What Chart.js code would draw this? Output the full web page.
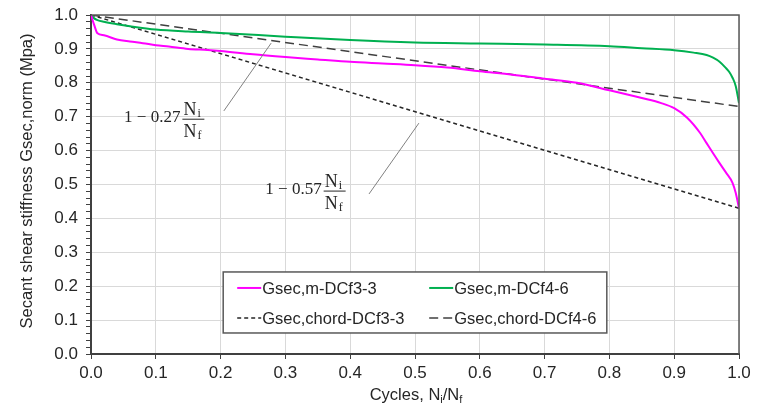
<!DOCTYPE html>
<html>
<head>
<meta charset="utf-8">
<script src="https://cdn.jsdelivr.net/npm/chart.js@4.4.1/dist/chart.umd.min.js"></script>
<style>
    html, body { margin: 0; padding: 0; background: #ffffff; }
</style>
</head>
<body>
<canvas id="grafico" width="758" height="404"></canvas>
<script>
// dados
const ciclosDCf33 = [0, 0.005, 0.01, 0.02, 0.04, 0.06, 0.08, 0.1, 0.12, 0.15, 0.18, 0.2, 0.25, 0.3, 0.35, 0.4, 0.45, 0.5, 0.55, 0.6, 0.65, 0.7, 0.75, 0.8, 0.85, 0.88, 0.9, 0.92, 0.94, 0.95, 0.96, 0.97, 0.98, 0.99, 0.995, 1.0];
const gsecDCf33 = [1.0, 0.97, 0.946, 0.94, 0.928, 0.922, 0.917, 0.911, 0.907, 0.9, 0.897, 0.894, 0.884, 0.876, 0.869, 0.862, 0.857, 0.852, 0.845, 0.834, 0.824, 0.812, 0.8, 0.778, 0.755, 0.74, 0.725, 0.697, 0.652, 0.622, 0.592, 0.563, 0.535, 0.505, 0.475, 0.43];

const ciclosDCf46 = [0, 0.005, 0.01, 0.02, 0.04, 0.06, 0.1, 0.15, 0.2, 0.3, 0.4, 0.5, 0.6, 0.7, 0.8, 0.85, 0.9, 0.93, 0.95, 0.96, 0.97, 0.98, 0.985, 0.99, 0.995, 1.0];
const gsecDCf46 = [1.0, 0.99, 0.985, 0.98, 0.973, 0.967, 0.957, 0.951, 0.947, 0.936, 0.926, 0.919, 0.916, 0.913, 0.908, 0.902, 0.896, 0.889, 0.882, 0.874, 0.862, 0.843, 0.832, 0.815, 0.79, 0.74];

const ciclosChord = [0, 1];
const chordDCf33 = [1.0, 0.43];
const chordDCf46 = [1.0, 0.73];

const rotulos = ['Gsec,m-DCf3-3', 'Gsec,m-DCf4-6', 'Gsec,chord-DCf3-3', 'Gsec,chord-DCf4-6'];
const coeficientes = ['0.27', '0.57'];

const pontos = (xs, ys) => xs.map((x, i) => ({ x: x, y: ys[i] }));

const corTexto = '#262626';
const fonte = "'Liberation Sans', Arial, sans-serif";
const fonteMat = "'Liberation Serif', 'DejaVu Serif', serif";

Chart.defaults.font.family = fonte;
Chart.defaults.font.size = 17;
Chart.defaults.color = corTexto;

function desenharFormula(ctx, xa, ya, coef) {
    ctx.save();
    ctx.fillStyle = corTexto;
    ctx.font = '17px ' + fonteMat;
    ctx.textBaseline = 'middle';
    ctx.textAlign = 'left';
    const txt = '1 \u2212 ' + coef;
    ctx.fillText(txt, xa, ya);
    const w = ctx.measureText(txt).width;
    const fx = xa + w + 2;
    const fw = 22;
    ctx.strokeStyle = corTexto;
    ctx.lineWidth = 1;
    ctx.beginPath();
    ctx.moveTo(fx, ya + 1.5);
    ctx.lineTo(fx + fw, ya + 1.5);
    ctx.stroke();
    ctx.textBaseline = 'alphabetic';
    ctx.font = '18px ' + fonteMat;
    ctx.fillText('N', fx + 1, ya - 3);
    ctx.fillText('N', fx + 1, ya + 19);
    ctx.font = '12px ' + fonteMat;
    ctx.fillText('i', fx + 15, ya - 1);
    ctx.fillText('f', fx + 15, ya + 21);
    ctx.restore();
}

const extras = {
    id: 'extras',
    afterDraw(chart) {
        const ctx = chart.ctx;
        const a = chart.chartArea;
        const sx = chart.scales.x;
        const sy = chart.scales.y;
        const px = v => sx.getPixelForValue(v);
        const py = v => sy.getPixelForValue(v);

        // moldura superior e direita
        ctx.save();
        ctx.strokeStyle = '#595959';
        ctx.lineWidth = 1.5;
        ctx.beginPath();
        ctx.moveTo(a.left, a.top);
        ctx.lineTo(a.right, a.top);
        ctx.lineTo(a.right, a.bottom);
        ctx.stroke();

        // linhas de chamada
        ctx.strokeStyle = '#808080';
        ctx.lineWidth = 1;
        ctx.beginPath();
        ctx.moveTo(px(0.205), py(0.717));
        ctx.lineTo(px(0.278), py(0.917));
        ctx.moveTo(px(0.429), py(0.472));
        ctx.lineTo(px(0.506), py(0.681));
        ctx.stroke();
        ctx.restore();

        desenharFormula(ctx, px(0.051), py(0.697), coeficientes[0]);
        desenharFormula(ctx, px(0.269), py(0.485), coeficientes[1]);

        // legenda
        const lx = px(0.204), rx = px(0.796), ty = py(0.242), by = py(0.062);
        ctx.save();
        ctx.fillStyle = '#ffffff';
        ctx.fillRect(lx, ty, rx - lx, by - ty);
        ctx.strokeStyle = '#595959';
        ctx.lineWidth = 1.5;
        ctx.strokeRect(lx, ty, rx - lx, by - ty);
        const colunas = [lx + 14, lx + 206];
        const linhas = [ty + 16, ty + 46];
        chart.data.datasets.forEach((ds, i) => {
            const cx = colunas[i % 2];
            const cy = linhas[Math.floor(i / 2)];
            ctx.strokeStyle = ds.borderColor;
            ctx.lineWidth = ds.borderWidth;
            ctx.setLineDash(ds.borderDash || []);
            ctx.beginPath();
            ctx.moveTo(cx, cy);
            ctx.lineTo(cx + 24, cy);
            ctx.stroke();
            ctx.setLineDash([]);
            ctx.fillStyle = corTexto;
            ctx.font = '16.5px ' + fonte;
            ctx.textBaseline = 'middle';
            ctx.textAlign = 'left';
            ctx.fillText(ds.label, cx + 25, cy + 1);
        });
        ctx.restore();

        // titulos dos eixos
        ctx.save();
        ctx.fillStyle = corTexto;
        ctx.font = '16.5px ' + fonte;
        ctx.textBaseline = 'middle';
        ctx.textAlign = 'center';
        ctx.translate(27, 181);
        ctx.rotate(-Math.PI / 2);
        ctx.fillText('Secant shear stiffness Gsec,norm (Mpa)', 0, 0);
        ctx.restore();

        ctx.save();
        ctx.fillStyle = corTexto;
        ctx.textBaseline = 'alphabetic';
        ctx.textAlign = 'left';
        const partes = [['Cycles, N', 16.5, 0], ['i', 11, 3], ['/N', 16.5, 0], ['f', 11, 3]];
        let total = 0;
        partes.forEach(p => { ctx.font = p[1] + 'px ' + fonte; total += ctx.measureText(p[0]).width; });
        let x0 = 416 - total / 2;
        const base = 400;
        partes.forEach(p => {
            ctx.font = p[1] + 'px ' + fonte;
            ctx.fillText(p[0], x0, base + p[2]);
            x0 += ctx.measureText(p[0]).width;
        });
        ctx.restore();
    }
};

const ctx = document.getElementById('grafico');
new Chart(ctx, {
    type: 'scatter',
    data: {
        datasets: [
            { label: rotulos[0], data: pontos(ciclosDCf33, gsecDCf33), borderColor: '#ff00ff', borderWidth: 2, showLine: true, pointRadius: 0, cubicInterpolationMode: 'monotone' },
            { label: rotulos[1], data: pontos(ciclosDCf46, gsecDCf46), borderColor: '#00b050', borderWidth: 2, showLine: true, pointRadius: 0, cubicInterpolationMode: 'monotone' },
            { label: rotulos[2], data: pontos(ciclosChord, chordDCf33), borderColor: '#262626', borderWidth: 1.5, borderDash: [4, 3], showLine: true, pointRadius: 0 },
            { label: rotulos[3], data: pontos(ciclosChord, chordDCf46), borderColor: '#404040', borderWidth: 1.5, borderDash: [9, 5], showLine: true, pointRadius: 0 }
        ]
    },
    options: {
        responsive: false,
        animation: false,
        devicePixelRatio: 1,
        layout: { padding: { top: 15, right: 19, left: 0, bottom: 0 } },
        plugins: {
            legend: { display: false },
            tooltip: { enabled: false }
        },
        scales: {
            x: {
                type: 'linear',
                min: 0,
                max: 1,
                afterFit: s => { s.height = 50; },
                afterBuildTicks: s => {
                    const t = [];
                    for (let k = 0; k <= 10; k++) t.push({ value: k / 10 });
                    s.ticks = t;
                },
                ticks: {
                    autoSkip: false,
                    maxRotation: 0,
                    padding: 4,
                    color: corTexto,
                    font: { size: 17 },
                    callback: v => v.toFixed(1)
                },
                grid: { color: '#d9d9d9', tickColor: '#404040', tickLength: 5, lineWidth: 1 },
                border: { color: '#404040', width: 2 }
            },
            y: {
                type: 'linear',
                min: 0,
                max: 1,
                afterFit: s => { s.width = 91; s.paddingTop = 10; s.paddingBottom = 10; },
                afterBuildTicks: s => {
                    const t = [];
                    for (let k = 0; k <= 50; k++) t.push({ value: k / 50 });
                    s.ticks = t;
                },
                ticks: {
                    autoSkip: false,
                    padding: 8,
                    color: corTexto,
                    font: { size: 17 },
                    callback: v => (Math.round(v * 50) % 5 === 0 ? v.toFixed(1) : '')
                },
                grid: {
                    color: c => (Math.round(c.tick.value * 50) % 5 === 0 ? '#d9d9d9' : 'rgba(0,0,0,0)'),
                    tickColor: '#404040',
                    tickLength: 5,
                    lineWidth: 1
                },
                border: { color: '#404040', width: 2 }
            }
        }
    },
    plugins: [extras]
});
</script>
</body>
</html>
